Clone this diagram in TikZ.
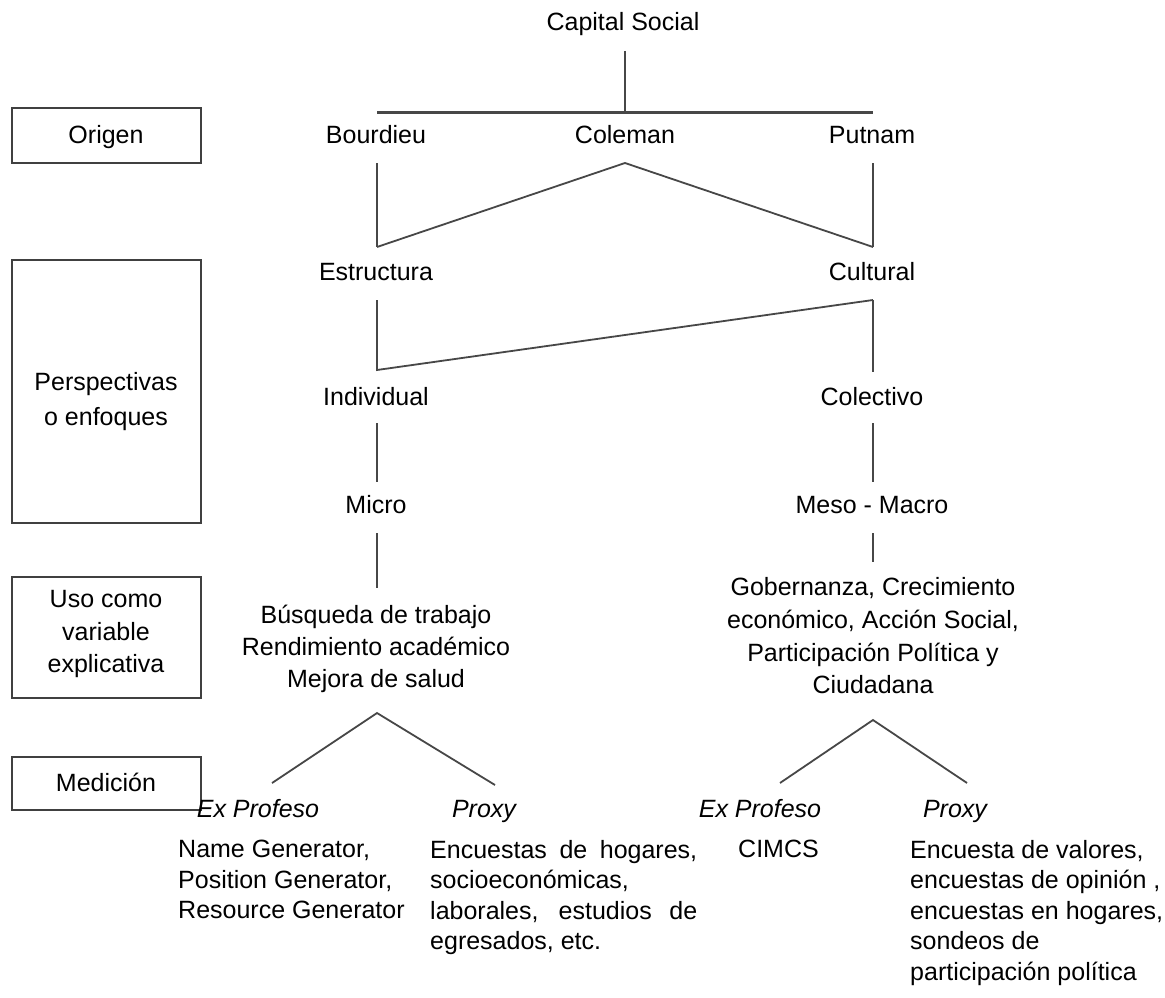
\documentclass[tikz,border=0pt]{standalone}
\usepackage{fontspec}
\setmainfont{Liberation Sans}
\begin{document}
\begin{tikzpicture}[x=1pt,y=-1pt,
  txt/.style={inner sep=0pt,font=\fontsize{25}{31}\selectfont,text=black},
  bl/.style={txt,anchor=base},
  blk/.style={txt,align=center},
  lft/.style={txt,anchor=north west,align=left},
  conn/.style={draw=black!72,line width=1.8pt},
  bar/.style={draw=black!72,line width=3pt},
  lbox/.style={draw=black!75,line width=2pt,fill=none}]
\useasboundingbox[fill=white] (0,0) rectangle (1165,998);

% left category boxes
\draw[lbox] (12,108) rectangle (201,163);
\draw[lbox] (12,260) rectangle (201,523);
\draw[lbox] (12,577) rectangle (201,698);
\draw[lbox] (12,757) rectangle (201,810);
\node[bl] (origen) at (106,143) {Origen};
\node[blk,font=\fontsize{25}{35}\selectfont] (persp) at (106,402) {Perspectivas\\o enfoques};
\node[blk,font=\fontsize{25}{32.5}\selectfont] (uso) at (106,634) {Uso como\\variable\\explicativa};
\node[bl] (medicion) at (106,791) {Medición};

% tree nodes
\node[bl] (cap) at (623,31) {Capital Social};
\node[bl] (bour) at (376,143) {Bourdieu};
\node[bl] (cole) at (625,143) {Coleman};
\node[bl] (put) at (872,143) {Putnam};
\node[bl] (estr) at (376,280) {Estructura};
\node[bl] (cult) at (872,280) {Cultural};
\node[bl] (indiv) at (376,405) {Individual};
\node[bl] (colec) at (872,405) {Colectivo};
\node[bl] (micro) at (376,513) {Micro};
\node[bl] (meso) at (872,513) {Meso - Macro};
\node[blk,font=\fontsize{25}{32}\selectfont] (usoL) at (376,649) {Búsqueda de trabajo\\Rendimiento académico\\Mejora de salud};
\node[blk,font=\fontsize{25}{32.7}\selectfont] (usoR) at (873,636) {Gobernanza, Crecimiento\\económico, Acción Social,\\Participación Política y\\Ciudadana};
\node[bl,font=\fontsize{25}{31}\selectfont\itshape] (exL) at (258,817) {Ex Profeso};
\node[bl,font=\fontsize{25}{31}\selectfont\itshape] (pxL) at (484,817) {Proxy};
\node[bl,font=\fontsize{25}{31}\selectfont\itshape] (exR) at (760,817) {Ex Profeso};
\node[bl,font=\fontsize{25}{31}\selectfont\itshape] (pxR) at (955,817) {Proxy};

\node[lft,font=\fontsize{25}{30.5}\selectfont] (mexL) at (178,840) {Name Generator,\\Position Generator,\\Resource Generator};
\node[lft,font=\fontsize{25}{30.5}\selectfont] (mpxL) at (430,840) {\makebox[267pt][s]{Encuestas de hogares,}\\socioeconómicas,\\\makebox[267pt][s]{laborales, estudios de}\\egresados, etc.};
\node[lft] (mexR) at (738,840) {CIMCS};
\node[lft,font=\fontsize{25}{30.5}\selectfont] (mpxR) at (910,840) {Encuesta de valores,\\encuestas de opinión ,\\encuestas en hogares,\\sondeos de\\participación política};

% junction coordinates
\coordinate (capB) at (625,51);
\coordinate (barC) at (625,112);
\coordinate (barL) at (377,112);
\coordinate (barR) at (873,112);
\coordinate (bourB) at (377,163);
\coordinate (coleB) at (625,163);
\coordinate (putB) at (873,163);
\coordinate (estrT) at (377,247);
\coordinate (cultT) at (873,247);
\coordinate (estrB) at (377,300);
\coordinate (cultB) at (873,300);
\coordinate (indivT) at (377,370);
\coordinate (colecT) at (873,372);
\coordinate (indivB) at (377,423);
\coordinate (colecB) at (873,423);
\coordinate (microT) at (377,482);
\coordinate (colecE) at (873,482);
\coordinate (microB) at (377,533);
\coordinate (mesoB) at (873,533);
\coordinate (usoLT) at (377,588);
\coordinate (usoRT) at (873,562);
\coordinate (usoLB) at (377,713);
\coordinate (usoRB) at (873,720);
\coordinate (exLT) at (272,783);
\coordinate (pxLT) at (495,785);
\coordinate (exRT) at (780,783);
\coordinate (pxRT) at (967,783);

% connectors
\draw[conn] (capB) -- (barC);
\draw[bar] (barL) -- (barR);
\draw[conn] (bourB) -- (estrT);
\draw[conn] (estrT) -- (coleB) -- (cultT);
\draw[conn] (putB) -- (cultT);
\draw[conn] (estrB) -- (indivT) -- (cultB);
\draw[conn] (cultB) -- (colecT);
\draw[conn] (indivB) -- (microT);
\draw[conn] (colecB) -- (colecE);
\draw[conn] (microB) -- (usoLT);
\draw[conn] (mesoB) -- (usoRT);
\draw[conn] (exLT) -- (usoLB) -- (pxLT);
\draw[conn] (exRT) -- (usoRB) -- (pxRT);
\end{tikzpicture}
\end{document}
